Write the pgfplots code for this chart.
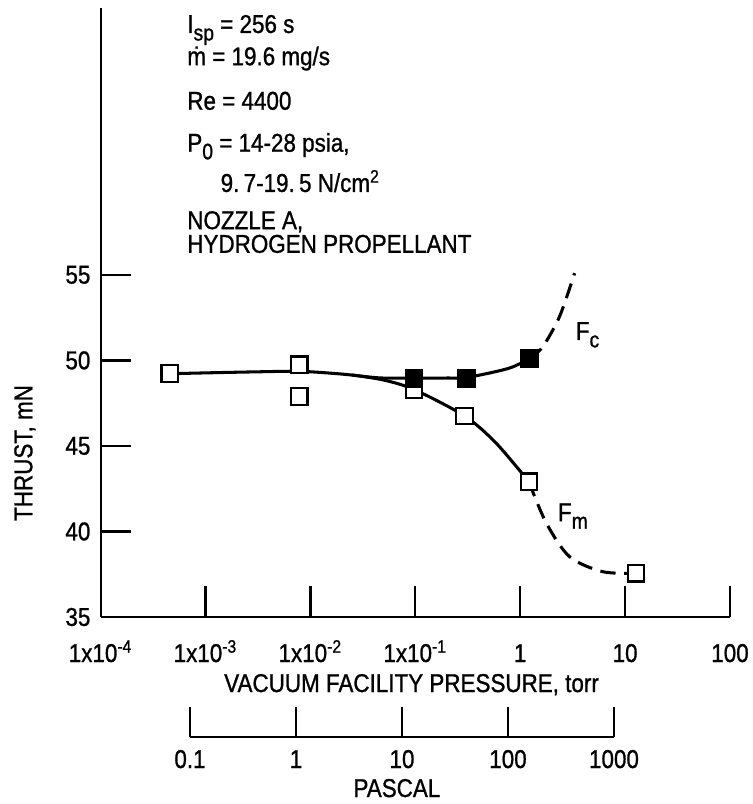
\documentclass[border=0pt]{standalone}
\usepackage{fontspec}
\setmainfont{Liberation Sans}[FakeStretch=0.87, FakeBold=1]
\usepackage{pgfplots}
\pgfplotsset{compat=1.18}
\newcommand{\lsub}[1]{\raisebox{-0.55ex}{\fontsize{9.5pt}{10pt}\selectfont #1}}
\begin{document}
\begin{tikzpicture}[font=\fontsize{11pt}{12pt}\selectfont]
\path[use as bounding box] (-15.1mm,-28.05mm) rectangle (97.85mm,92.55mm);
\begin{axis}[
  name=main,
  at={(0,0)}, anchor=south west,
  scale only axis, width=94.4mm, height=91.35mm,
  xmode=log, xmin=1e-4, xmax=100, ymin=35, ymax=70.6,
  axis x line*=bottom, axis y line*=left,
  axis line style={line width=0.95pt},
  tick align=inside, major tick length=4.6mm,
  tick style={line width=0.95pt, black},
  xtick={1e-4,1e-3,1e-2,1e-1,1,10,100},
  xticklabels={1x10\textsuperscript{-4},1x10\textsuperscript{-3},1x10\textsuperscript{-2},1x10\textsuperscript{-1},1,10,100},
  xminorticks=false, yminorticks=false,
  xticklabel style={anchor=base, yshift=-6.75mm},
  ytick={35,40,45,50,55},
  /pgf/number format/assume math mode=true,
  yticklabel style={xshift=-0.3mm},
  xlabel={VACUUM FACILITY PRESSURE, torr},
  xlabel style={at={(axis description cs:0.494,-0.1232)}, anchor=base},
  ylabel={THRUST, mN},
  ylabel style={at={(axis description cs:-0.1203,0.2693)}, anchor=center},
  clip=false,
]
% F_c solid
\addplot[line width=1.3pt, smooth, no marks] coordinates {
(4.57e-4,49.22) (1e-3,49.27) (3e-3,49.33) (8e-3,49.36) (0.02,49.2) (0.045,48.98)
(0.097,48.96) (0.2,48.97) (0.306,49.0) (0.59,49.35) (0.85,49.62) (1.23,50.1)};
% F_m solid
\addplot[line width=1.3pt, smooth, no marks] coordinates {
(0.025,49.15) (0.05,48.85) (0.097,48.3) (0.295,46.75) (0.59,45.16) (1.21,42.9)};
% F_c dashed
\addplot[line width=1.3pt, smooth, no marks, dash pattern=on 2.3mm off 1.3mm] coordinates {
(1.23,50.1) (1.64,50.8) (2.37,52.56) (3.3,55.1)};
% F_m dashed
\addplot[line width=1.3pt, smooth, no marks, dash pattern=on 2.3mm off 1.3mm] coordinates {
(1.21,42.9) (1.77,40.5) (2.95,38.53) (6.1,37.65) (12.7,37.56)};
% open squares
\addplot[only marks, mark=square*, mark size=1.25mm, mark options={fill=white, draw=black, line width=0.9pt}] coordinates {
(4.57e-4,49.22) (7.8e-3,49.74) (7.8e-3,47.9) (0.097,48.3) (0.295,46.75) (1.21,42.9) (12.7,37.56)};
% filled squares
\addplot[only marks, mark=square*, mark size=1.25mm, mark options={fill=black, draw=black, line width=0.9pt}] coordinates {
(0.097,48.96) (0.306,48.96) (1.23,50.1)};
\node[anchor=base west, inner sep=0pt] at (axis cs:3.36,51.2) {F\lsub{c}};
\node[anchor=base west, inner sep=0pt] at (axis cs:2.27,40.6) {F\lsub{m}};
\node[anchor=base west, inner sep=0pt] at (axis description cs:0.137,0.959) {I\lsub{sp} = 256 s};
\node[anchor=base west, inner sep=0pt] at (axis description cs:0.137,0.906) {\.{m} = 19.6 mg/s};
\node[anchor=base west, inner sep=0pt] at (axis description cs:0.137,0.833) {Re = 4400};
\node[anchor=base west, inner sep=0pt] at (axis description cs:0.137,0.764) {P\lsub{0} = 14-28 psia,};
\node[anchor=base west, inner sep=0pt] at (axis description cs:0.19,0.698) {9.\,7-19.\,5 N/cm\textsuperscript{2}};
\node[anchor=base west, inner sep=0pt, align=left, font={\fontsize{11pt}{3.05mm}\selectfont}] at (axis description cs:0.137,0.598) {NOZZLE A,\\HYDROGEN PROPELLANT};
\end{axis}
\begin{axis}[
  at={(13.4mm,-18mm)}, anchor=south west,
  scale only axis, width=63.6mm, height=5mm,
  xmode=log, xmin=0.1, xmax=1000, ymin=0, ymax=1,
  axis x line*=bottom, axis y line=none,
  axis line style={line width=0.95pt},
  tick align=inside, major tick length=4.5mm,
  tick style={line width=0.95pt, black},
  xtick={0.1,1,10,100,1000},
  xticklabels={0.1,1,10,100,1000},
  xminorticks=false,
  xticklabel style={anchor=base, yshift=-4.65mm},
  xlabel={PASCAL},
  xlabel style={at={(axis description cs:0.488,0)}, anchor=base, yshift=-9mm},
]
\end{axis}
\end{tikzpicture}
\end{document}
